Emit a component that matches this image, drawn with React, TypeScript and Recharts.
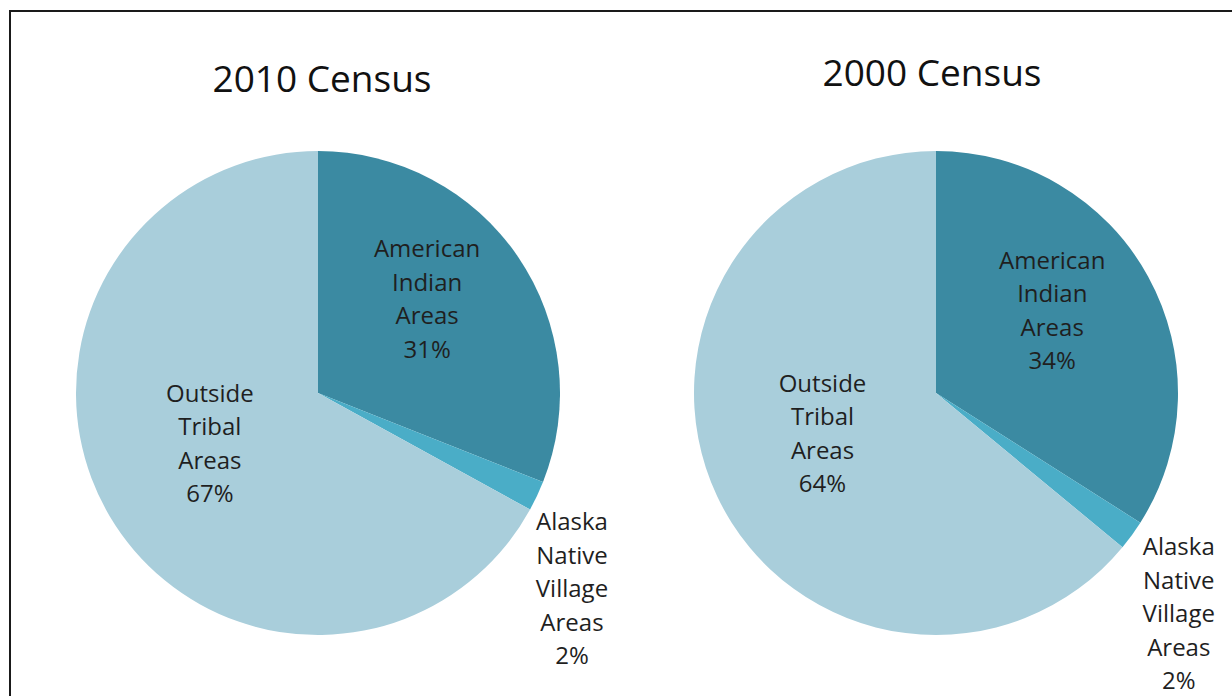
import React from "react";
import { PieChart, Pie, Cell } from "recharts";

const categories = ["American Indian Areas", "Alaska Native Village Areas", "Outside Tribal Areas"];
const labelWords = [
  ["American", "Indian", "Areas"],
  ["Alaska", "Native", "Village", "Areas"],
  ["Outside", "Tribal", "Areas"],
];
const census2010 = [31, 2, 67];
const census2000 = [34, 2, 64];
const titles = ["2010 Census", "2000 Census"];

const colors = ["#3B8AA2", "#4AADC7", "#A9CEDB"];
const FONT = "'Open Sans', sans-serif";
const LINE_H = 33.5;

const build = (vals: number[]) =>
  categories.map((name, i) => ({ name, value: vals[i], idx: i }));

const data2010 = build(census2010);
const data2000 = build(census2000);

const RADIAN = Math.PI / 180;

const renderLabel = (props: any) => {
  const { cx, cy, midAngle, outerRadius, index, value } = props;
  const lines = [...labelWords[index], `${value}%`];
  const cos = Math.cos(-midAngle * RADIAN);
  const sin = Math.sin(-midAngle * RADIAN);
  let x: number;
  let firstY: number;
  if (index === 1) {
    const ex = cx + outerRadius * cos;
    const ey = cy + outerRadius * sin;
    const t = midAngle + 25.2;
    x = ex + 35 - 1.11 * t;
    firstY = ey + 24.5 + 1.3 * t;
  } else {
    const f = index === 0 ? 0.6 : 0.5;
    const dx = index === 0 ? -11 : -4;
    const dy = index === 0 ? -13.5 : -12;
    x = cx + f * outerRadius * cos + dx;
    const yc = cy + f * outerRadius * sin + dy;
    firstY = yc - ((lines.length - 1) / 2) * LINE_H;
  }
  return (
    <text
      key={`lbl-${index}`}
      x={x}
      y={firstY}
      textAnchor="middle"
      fill="#1f1f1f"
      fontFamily={FONT}
      fontSize={24}
    >
      {lines.map((l, i) => (
        <tspan key={i} x={x} y={firstY + i * LINE_H} dominantBaseline="central">
          {l}
        </tspan>
      ))}
    </text>
  );
};

export default function App() {
  return (
    <div
      style={{
        position: "absolute",
        left: 0,
        top: 0,
        width: 1232,
        height: 696,
        overflow: "hidden",
        background: "#fff",
      }}
    >
      <div
        style={{
          position: "absolute",
          left: 9,
          top: 10,
          width: 1300,
          height: 800,
          border: "2px solid #1a1a1a",
          boxSizing: "border-box",
        }}
      />
      <div style={{ position: "absolute", left: 0, top: 0 }}>
        <PieChart width={1232} height={696} margin={{ top: 0, right: 0, bottom: 0, left: 0 }}>
          <Pie
            data={data2010}
            dataKey="value"
            nameKey="name"
            cx={318}
            cy={393}
            outerRadius={242}
            startAngle={90}
            endAngle={-270}
            stroke="none"
            label={renderLabel}
            labelLine={false}
            isAnimationActive={false}
          >
            {data2010.map((d, i) => (
              <Cell key={i} fill={colors[i]} />
            ))}
          </Pie>
          <Pie
            data={data2000}
            dataKey="value"
            nameKey="name"
            cx={936}
            cy={393}
            outerRadius={242}
            startAngle={90}
            endAngle={-270}
            stroke="none"
            label={renderLabel}
            labelLine={false}
            isAnimationActive={false}
          >
            {data2000.map((d, i) => (
              <Cell key={i} fill={colors[i]} />
            ))}
          </Pie>
        </PieChart>
      </div>
      <svg
        width={1232}
        height={696}
        style={{ position: "absolute", left: 0, top: 0, pointerEvents: "none" }}
      >
        <text x={322} y={92} textAnchor="middle" fontFamily={FONT} fontSize={37} fill="#111">
          {titles[0]}
        </text>
        <text x={932} y={86} textAnchor="middle" fontFamily={FONT} fontSize={37} fill="#111">
          {titles[1]}
        </text>
      </svg>
    </div>
  );
}
